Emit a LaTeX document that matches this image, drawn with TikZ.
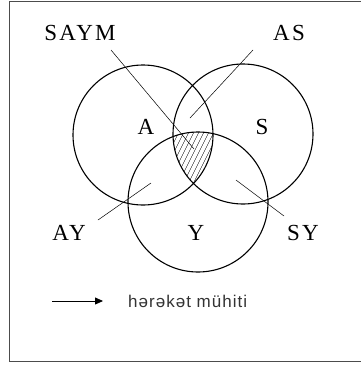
\documentclass[tikz,border=0pt]{standalone}
\usepackage{fontspec}
\newfontfamily\lblfont[LetterSpace=10]{Liberation Serif}
\newfontfamily\legfont[LetterSpace=6]{Liberation Sans}
\usetikzlibrary{arrows.meta,positioning}

\begin{document}
\begin{tikzpicture}[x=1pt,y=-1pt,
  setc/.style={line width=1.1pt},
  lbl/.style={inner sep=0pt,font=\lblfont\fontsize{23}{23}\selectfont},
  lead/.style={line width=0.5pt}]
  \useasboundingbox (0,0) rectangle (360,367);
  \draw[line width=0.8pt,black!70] (9,1) rectangle (364,361);
  % the three sets
  \coordinate (cA) at (143,135);
  \coordinate (cS) at (243,134);
  \coordinate (cY) at (198,202);
  \begin{scope}
    \clip (cA) circle[radius=70pt];
    \clip (cS) circle[radius=70pt];
    \clip (cY) circle[radius=70pt];
    \foreach \x in {120,125,...,230}
      \draw[line width=0.4pt] (\x,200) -- (\x+36,128);
  \end{scope}
  \draw[setc] (cA) circle[radius=70pt];
  \draw[setc] (cS) circle[radius=70pt];
  \draw[setc] (cY) circle[radius=70pt];
  % labels
  \node[lbl] (a) at (146,127) {A};
  \node[lbl] (s) at (262,127) {S};
  \node[lbl] (y) at (196,233) {Y};
  \node[lbl] (saym) at (80,33) {SAYM};
  \node[lbl] (as) at (289,33) {AS};
  \node[lbl] (ay) at (69,233) {AY};
  \node[lbl] (sy) at (303,233) {SY};
  % leaders
  \coordinate (saym1) at (111,50);
  \coordinate (saym2) at (194,149);
  \coordinate (as1) at (253,50);
  \coordinate (as2) at (190,118);
  \coordinate (ay1) at (98,220);
  \coordinate (ay2) at (151,183);
  \coordinate (sy1) at (284,216);
  \coordinate (sy2) at (236,180);
  \draw[lead] (saym1) -- (saym2);
  \draw[lead] (as1) -- (as2);
  \draw[lead] (ay1) -- (ay2);
  \draw[lead] (sy1) -- (sy2);
  % legend
  \coordinate (leg1) at (52,301);
  \node[inner sep=0pt,anchor=west,font=\legfont\fontsize{17}{17}\selectfont,black!80] (leg) at (128,301) {hərəkət mühiti};
  \draw[line width=0.8pt,-{Triangle[length=8pt,width=7pt]}] (leg1) -- ([xshift=-25pt]leg.west);
\end{tikzpicture}
\end{document}
